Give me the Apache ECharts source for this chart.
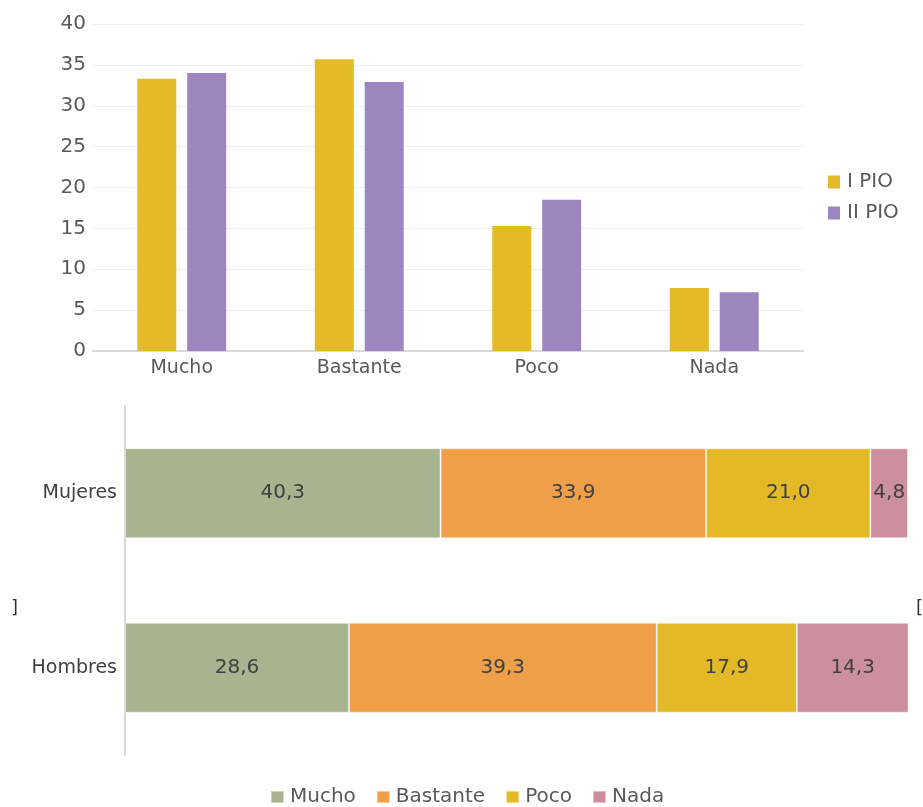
<!DOCTYPE html>
<html><head><meta charset="utf-8">
<script src="https://cdn.jsdelivr.net/npm/echarts@6/dist/echarts.min.js"></script>
<style>html,body{margin:0;padding:0;background:#fff}#c{width:923px;height:807px}</style>
</head><body><div id="c"></div>
<script>
const topCategories = ['Mucho', 'Bastante', 'Poco', 'Nada'];
const pio1 = [33.3, 35.7, 15.3, 7.7];
const pio2 = [34.0, 32.9, 18.5, 7.2];
const topSeriesNames = ['I PIO', 'II PIO'];

const sexCategories = ['Mujeres', 'Hombres'];
const mucho = [40.3, 28.6];
const bastante = [33.9, 39.3];
const poco = [21.0, 17.9];
const nada = [4.8, 14.3];
const stackNames = ['Mucho', 'Bastante', 'Poco', 'Nada'];

const chart = echarts.init(document.getElementById('c'), null, {renderer: 'canvas'});
const f = 'DejaVu Sans';
const stackColors = ['#A7B48F', '#EF9F47', '#E4B927', '#CD8EA0'];
const stackData = [mucho, bastante, poco, nada];

chart.setOption({
  animation: false,
  backgroundColor: '#fff',
  legend: [{
    data: topSeriesNames,
    orient: 'vertical',
    left: 823, top: 167,
    itemWidth: 12, itemHeight: 13, itemGap: 11,
    icon: 'rect',
    textStyle: {fontFamily: f, fontSize: 20, color: '#595959', padding: [0,0,0,2]}
  }, {
    data: stackNames,
    orient: 'horizontal',
    left: 265, top: 782,
    itemWidth: 13, itemHeight: 12, itemGap: 20,
    icon: 'rect',
    textStyle: {fontFamily: f, fontSize: 20, color: '#595959', padding: [0,0,0,1]}
  }],
  grid: [
    {left: 93, right: 120, top: 24, bottom: 456},
    {left: 125, right: 15, top: 406, bottom: 52}
  ],
  xAxis: [{
    gridIndex: 0, type: 'category', data: topCategories,
    axisLine: {lineStyle: {color: '#d9d9d9', width: 2}},
    axisTick: {show: false},
    axisLabel: {fontFamily: f, fontSize: 19, color: '#595959', margin: 8}
  }, {
    gridIndex: 1, type: 'value', min: 0, max: 100, show: false
  }],
  yAxis: [{
    gridIndex: 0, type: 'value', min: 0, max: 40, interval: 5,
    axisLine: {show: false}, axisTick: {show: false},
    splitLine: {lineStyle: {color: '#efefef', width: 1}},
    axisLabel: {fontFamily: f, fontSize: 20, color: '#595959', margin: 7}
  }, {
    gridIndex: 1, type: 'category', data: sexCategories, inverse: true,
    axisLine: {lineStyle: {color: '#d9d9d9', width: 2}},
    axisTick: {show: false},
    axisLabel: {fontFamily: f, fontSize: 19, color: '#404040', margin: 8}
  }],
  series: [
    {name: topSeriesNames[0], type: 'bar', xAxisIndex: 0, yAxisIndex: 0, data: pio1,
     barWidth: 39, barGap: '28%', itemStyle: {color: '#E4BB27'}},
    {name: topSeriesNames[1], type: 'bar', xAxisIndex: 0, yAxisIndex: 0, data: pio2,
     barWidth: 39, barGap: '28%', itemStyle: {color: '#9D85C0'}}
  ].concat(stackNames.map((n, i) => ({
    name: n, type: 'bar', stack: 'sex', xAxisIndex: 1, yAxisIndex: 1,
    data: stackData[i], barWidth: 90,
    itemStyle: {color: stackColors[i], borderColor: 'rgba(255,255,255,0.45)', borderWidth: 1},
    label: {show: true, position: 'inside', fontFamily: f, fontSize: 20, color: '#404040',
      formatter: p => p.value.toFixed(1).replace('.', ',')}
  }))),
  graphic: [
    {type: 'text', left: 11, top: 599, style: {text: ']', fontFamily: f, fontSize: 18, fill: '#333'}},
    {type: 'text', left: 916, top: 599, style: {text: '[', fontFamily: f, fontSize: 18, fill: '#333'}}
  ]
});
</script></body></html>
